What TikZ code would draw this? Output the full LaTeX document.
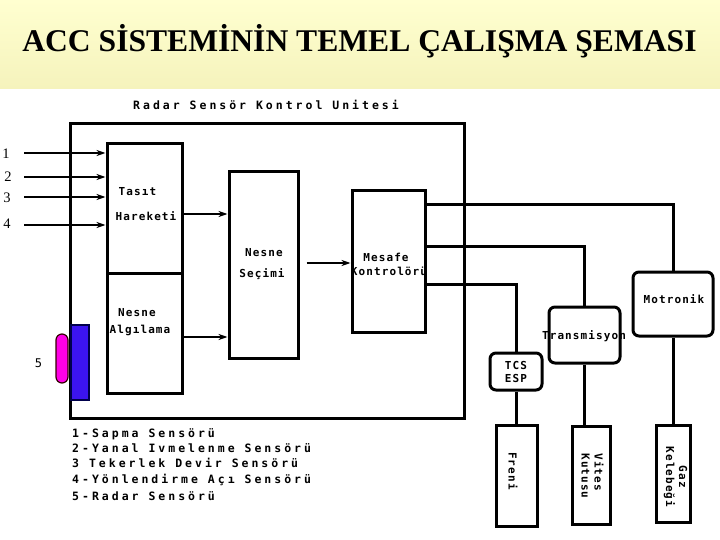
\documentclass[tikz,border=0pt]{standalone}
\usepackage{fontspec}
\setmainfont{Liberation Serif}
\newfontfamily\pixfont[LetterSpace=10]{DejaVu Sans Mono}
\newfontfamily\pixwide[LetterSpace=26]{DejaVu Sans Mono}
\usetikzlibrary{arrows.meta,calc}
\definecolor{bandtop}{RGB}{255,255,208}
\definecolor{bandbot}{RGB}{245,243,188}
\definecolor{radarblue}{RGB}{60,20,240}
\definecolor{radarmag}{RGB}{255,0,230}
\tikzset{
  box/.style={draw, line width=3pt, inner sep=0pt, fill=white},
  rbox/.style={box, rounded corners=6pt},
  pix/.style={font=\pixfont\bfseries\fontsize{11}{13}\selectfont, inner sep=0pt},
  leg/.style={font=\pixwide\bfseries\fontsize{11.5}{13}\selectfont, inner sep=0pt, anchor=base west},
  num/.style={font=\fontsize{14.5}{16}\selectfont, inner sep=0pt},
  wire/.style={line width=3pt},
  arr/.style={line width=2.2pt, -{Stealth[length=9pt,width=6pt]}},
}
\begin{document}
\begin{tikzpicture}[x=1pt,y=-1pt]
\useasboundingbox (0,0) rectangle (720,540);
\fill[white] (0,0) rectangle (720,540);
\shade[top color=bandtop, bottom color=bandbot] (0,0) rectangle (720,89);
\node[font=\bfseries\fontsize{31.6}{34}\selectfont, inner sep=0pt, anchor=base] (title) at (359.5,52) {ACC SİSTEMİNİN TEMEL ÇALIŞMA ŞEMASI};

% main control unit
\node[box, minimum width=394pt, minimum height=294pt] (rsu) at (267,271) {};
\node[leg, anchor=center] (rsulabel) at (266,105) {Radar Sensör Kontrol Unitesi};

% inner blocks
\node[box, minimum width=75pt, minimum height=129pt] (tasit) at (144.5,208.5) {};
\node[box, minimum width=75pt, minimum height=120pt] (alg) at (144.5,333) {};
\node[box, minimum width=69pt, minimum height=186pt] (secim) at (263.5,265) {};
\node[box, minimum width=73pt, minimum height=141pt] (mesafe) at (388.5,261.5) {};

\node[pix] (t1) at (137.5,192) {Tasıt};
\node[pix] (t2) at (146,216) {Hareketi};
\node[pix] (s1) at (264,253) {Nesne};
\node[pix] (s2) at (262,274) {Seçimi};
\node[pix] (a1) at (137,313) {Nesne};
\node[pix] (a2) at (140,330) {Algılama};
\node[pix] (m1) at (386,257) {Mesafe};
\node[pix] (m2) at (389,271) {Kontrolörü};

% outer blocks
\node[rbox, minimum width=80pt, minimum height=64pt] (motronik) at (673,304) {};
\node[rbox, minimum width=71pt, minimum height=56pt] (trans) at (584.5,335) {};
\node[rbox, minimum width=52pt, minimum height=37pt] (tcs) at (516,371.5) {};
\node[pix] (motl) at (674,299) {Motronik};
\node[pix] (transl) at (584,336) {Transmisyon};
\node[pix, align=center] (tcsl) at (516,372) {TCS\\ESP};

\node[box, minimum width=41pt, minimum height=101pt] (freni) at (516.5,475.5) {};
\node[box, minimum width=38pt, minimum height=98pt] (vites) at (591,475) {};
\node[box, minimum width=34pt, minimum height=97pt] (gaz) at (673,473.5) {};
\node[pix, rotate=-90] (frl) at (513,471) {Freni};
\node[pix, rotate=-90, align=left] (vil) at (592.5,476) {Vites\\Kutusu};
\node[pix, rotate=-90, align=center] (gzl) at (675.5,477) {Gaz\\Kelebeği};

% radar sensor
\node[draw=black!70!blue, line width=1.2pt, fill=radarblue, minimum width=18pt, minimum height=75pt, inner sep=0pt] (radar) at (80,362.5) {};
\node[draw=black!80!red, line width=1.2pt, fill=radarmag, minimum width=12pt, minimum height=49pt, rounded corners=6pt, inner sep=0pt] (lens) at (62,358.5) {};
\node[font=\pixfont\fontsize{12}{13}\selectfont, inner sep=0pt] (n5) at (38.5,363) {5};

% sensor inputs
\coordinate (i1) at (24,153);
\coordinate (i2) at (24,177);
\coordinate (i3) at (24,197);
\coordinate (i4) at (24,225);
\node[num] (n1) at (6,154) {1};
\node[num] (n2) at (8,177) {2};
\node[num] (n3) at (7,198) {3};
\node[num] (n4) at (7,224) {4};
\draw[arr] (i1) -- (i1 -| tasit.west);
\draw[arr] (i2) -- (i2 -| tasit.west);
\draw[arr, line width=2.8pt] (i3) -- (i3 -| tasit.west);
\draw[arr, line width=2.8pt] (i4) -- (i4 -| tasit.west);

% internal arrows
\coordinate (yA) at (0,214);
\coordinate (yB) at (0,337);
\coordinate (yS) at (0,263);
\draw[arr] (tasit.east |- yA) -- (secim.west |- yA);
\draw[arr, line width=2.8pt] (alg.east |- yB) -- (secim.west |- yB);
\draw[arr, shorten <=7pt] (secim.east |- yS) -- (mesafe.west |- yS);

% outputs
\coordinate (ym) at (0,205);
\coordinate (yt) at (0,246);
\coordinate (yc) at (0,284);
\draw[wire] (mesafe.east |- ym) -| (motronik.north);
\draw[wire] (mesafe.east |- yt) -| (trans.north);
\draw[wire] (mesafe.east |- yc) -| (tcs.north);
\draw[wire] (tcs.south) -- (tcs.south |- freni.north);
\draw[wire] (trans.south) -- (trans.south |- vites.north);
\draw[wire] (motronik.south) -- (motronik.south |- gaz.north);

% legend
\node[leg] (l1) at (72,437) {1-Sapma Sensörü};
\node[leg] (l2) at (72,452.5) {2-Yanal Ivmelenme Sensörü};
\node[leg] (l3) at (72,467) {3 Tekerlek Devir Sensörü};
\node[leg] (l4) at (72,483.5) {4-Yönlendirme Açı Sensörü};
\node[leg] (l5) at (72,500) {5-Radar Sensörü};
\end{tikzpicture}
\end{document}
